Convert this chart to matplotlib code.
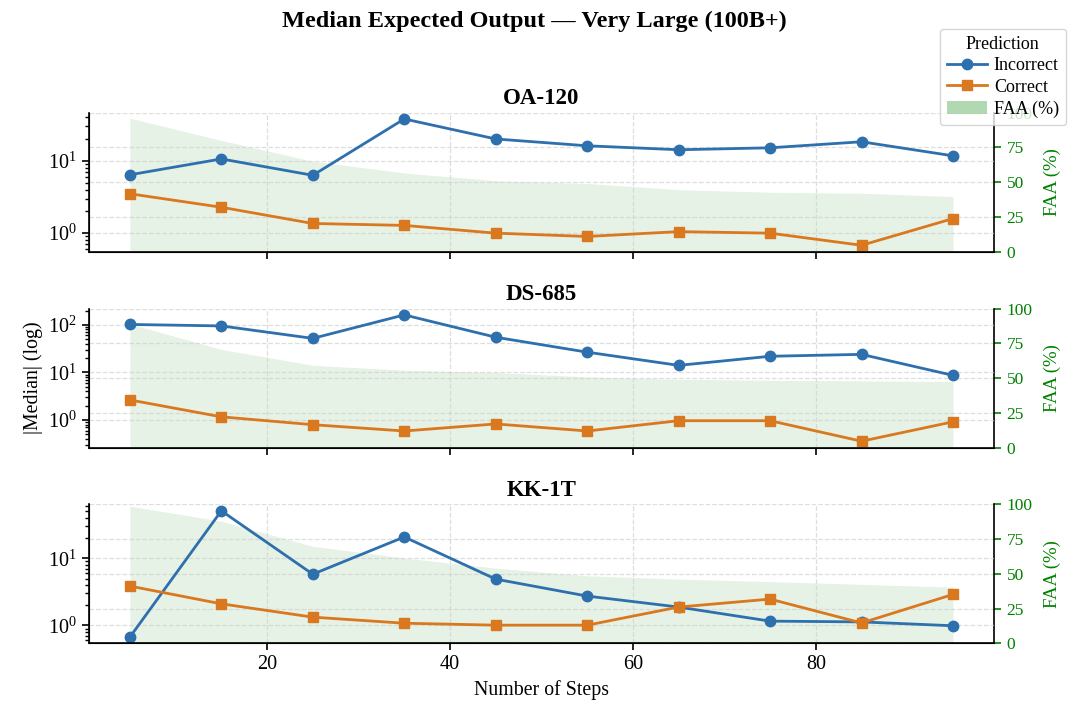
import matplotlib
matplotlib.use("Agg")
import matplotlib.pyplot as plt
from matplotlib.lines import Line2D
from matplotlib.patches import Patch

# ==========================
# Dados
# ==========================
steps = [5, 15, 25, 35, 45, 55, 65, 75, 85, 95]
modelos = ["OA-120", "DS-685", "KK-1T"]

incorreto_oa = [6.4, 10.6, 6.3, 37.8, 20.0, 16.1, 14.2, 15.1, 18.3, 11.7]
correto_oa = [3.5, 2.28, 1.36, 1.28, 1.0, 0.90, 1.05, 1.0, 0.68, 1.59]
faa_oa = [96, 80, 65, 56.6, 51, 49, 44.6, 42.7, 42, 39.6]

incorreto_ds = [102, 95, 52, 162, 55, 26.7, 14.1, 21.9, 24, 8.7]
correto_ds = [2.65, 1.17, 0.80, 0.59, 0.83, 0.59, 0.97, 0.97, 0.36, 0.92]
faa_ds = [89, 70.6, 59.2, 55.6, 54, 50.8, 49.1, 48.4, 48, 47.5]

incorreto_kk = [0.67, 51, 5.8, 20.8, 4.9, 2.74, 1.88, 1.16, 1.13, 0.99]
correto_kk = [3.86, 2.1, 1.33, 1.08, 1.01, 1.01, 1.88, 2.47, 1.09, 2.9]
faa_kk = [98.8, 88, 69.9, 61.5, 54.2, 48.7, 46.3, 44.5, 42.5, 40.5]

incorretos = [incorreto_oa, incorreto_ds, incorreto_kk]
corretos = [correto_oa, correto_ds, correto_kk]
faas = [faa_oa, faa_ds, faa_kk]

cor_incorreto = "#2e6fad"
cor_correto = "#d9781e"

# ==========================
# Estilo
# ==========================
plt.rcParams["font.family"] = ["Liberation Serif", "DejaVu Serif"]
plt.rcParams["mathtext.fontset"] = "stix"
plt.rcParams["font.size"] = 13

fig, axes = plt.subplots(3, 1, figsize=(10.69, 7.04), dpi=100, sharex=True)
fig.subplots_adjust(left=0.083, right=0.930, top=0.84, bottom=0.086, hspace=0.41)

for i, ax in enumerate(axes):
    ax2 = ax.twinx()
    ax2.fill_between(steps, 0, faas[i], color="green", alpha=0.1, linewidth=0)
    ax2.set_ylim(0, 100)
    ax2.set_yticks([0, 25, 50, 75, 100])
    ax2.tick_params(axis="y", colors="green", labelsize=12.5, length=5, width=1.2, pad=4)
    ax2.set_ylabel("FAA (%)", color="green", fontsize=13.5, labelpad=8)
    ax2.grid(True, linestyle="--", color="#d0d0d0", alpha=0.7, linewidth=0.9)
    ax2.spines["top"].set_visible(False)
    ax2.spines["right"].set_linewidth(1.2)

    ax.set_zorder(ax2.get_zorder() + 1)
    ax.patch.set_visible(False)

    ax.plot(steps, incorretos[i], marker="o", color=cor_incorreto,
            linewidth=2, markersize=7.5, label="Incorrect")
    ax.plot(steps, corretos[i], marker="s", color=cor_correto,
            linewidth=2, markersize=7.5, label="Correct")
    ax.set_yscale("log")
    ax.set_title(modelos[i], fontweight="bold", fontsize=16.5)
    ax.grid(True, which="major", linestyle="--", color="#d0d0d0", alpha=0.7, linewidth=0.9)
    ax.tick_params(axis="both", which="major", labelsize=14.5, length=5, width=1.2)
    ax.tick_params(axis="y", which="minor", length=3, width=1)
    ax.spines["top"].set_visible(False)
    ax.spines["right"].set_visible(False)
    ax.spines["left"].set_linewidth(1.2)
    ax.spines["bottom"].set_linewidth(1.2)

axes[1].set_ylabel("|Median| (log)", fontsize=14.3)
axes[2].set_xlabel("Number of Steps", fontsize=14.3)
axes[2].set_xticks([20, 40, 60, 80])

handles = [
    Line2D([0], [0], marker="o", color=cor_incorreto, linewidth=2, markersize=7.5),
    Line2D([0], [0], marker="s", color=cor_correto, linewidth=2, markersize=7.5),
    Patch(facecolor="green", alpha=0.3),
]
fig.legend(handles, ["Incorrect", "Correct", "FAA (%)"], title="Prediction",
           loc="upper right", bbox_to_anchor=(0.999, 0.962), borderaxespad=0.1,
           fontsize=13, title_fontsize=13, handlelength=2.2, handletextpad=0.4,
           borderpad=0.4, labelspacing=0.25)

fig.suptitle("Median Expected Output — Very Large (100B+)", fontweight="bold",
             fontsize=17.5, y=0.985)

plt.savefig("out.png", dpi=100)
